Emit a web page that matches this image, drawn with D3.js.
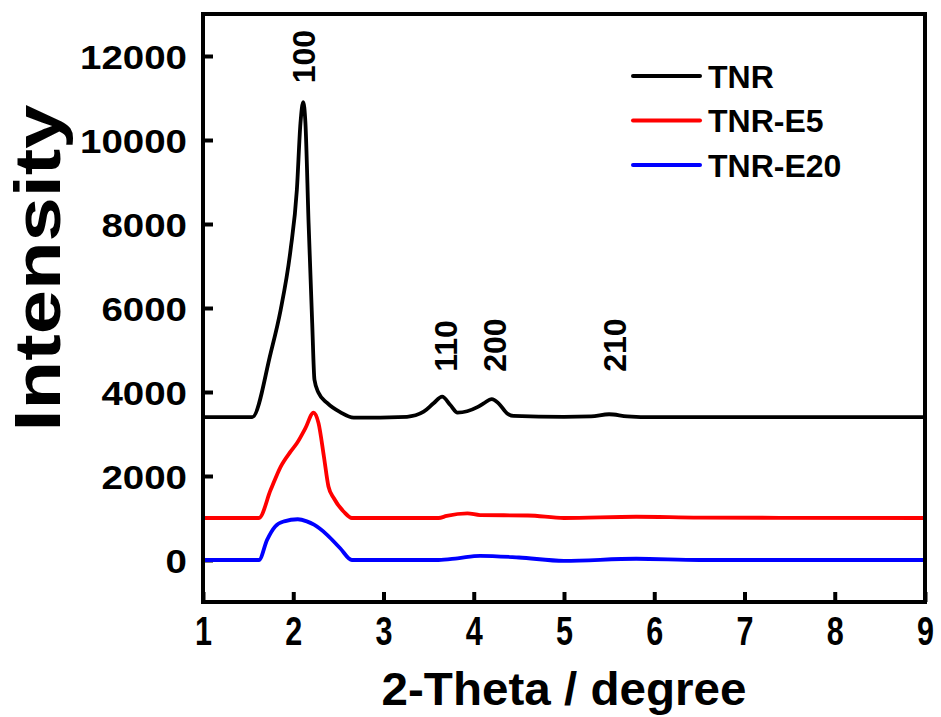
<!DOCTYPE html>
<html>
<head>
<meta charset="utf-8">
<script src="https://cdn.jsdelivr.net/npm/d3@7"></script>
<style>
  html, body { margin: 0; padding: 0; background: #fff; }
  #chart { width: 941px; height: 717px; }
  text { font-family: "Liberation Sans", Arial, sans-serif; font-weight: bold; fill: #000; }
</style>
</head>
<body>
<div id="chart"></div>
<script>
// series names + values
var seriesNames = ["TNR", "TNR-E5", "TNR-E20"];

var tnrX = [1, 1.545, 1.75, 1.86, 1.97, 2.04, 2.08, 2.11, 2.135, 2.17, 2.21, 2.235, 2.28, 2.375, 2.52, 2.67,
            3.26, 3.445, 3.555, 3.65, 3.74, 3.82, 4.04, 4.11, 4.2, 4.275, 4.37, 4.44, 5.0, 5.3, 5.5, 5.7, 6.0, 9];
var tnrY = [3400, 3400, 4930, 5950, 7380, 8810, 10400, 10900, 10400, 8020, 5640, 4290, 3980, 3740, 3520, 3390,
            3410, 3530, 3730, 3890, 3690, 3510, 3640, 3730, 3830, 3730, 3490, 3430, 3410, 3420, 3470, 3420, 3400, 3400];

var e5X = [1, 1.62, 1.75, 1.86, 1.97, 2.04, 2.135, 2.225, 2.28, 2.34, 2.39, 2.45, 2.56, 2.65,
           3.61, 3.7, 3.93, 4.07, 4.6, 5.0, 5.8, 6.5, 9];
var e5Y = [1000, 1000, 1670, 2220, 2580, 2780, 3140, 3510, 3260, 2460, 1750, 1470, 1150, 1000,
           1000, 1050, 1110, 1070, 1060, 1000, 1030, 1010, 1000];

var e20X = [1, 1.62, 1.71, 1.8, 1.9, 2.05, 2.15, 2.23, 2.375, 2.52, 2.65, 3.61, 3.82, 4.07, 4.5, 5.0, 5.8, 6.5, 9];
var e20Y = [0, 0, 480, 800, 920, 970, 920, 840, 600, 280, 0, 0, 40, 100, 60, -20, 30, 0, 0];

// peak (hkl) labels
var peakLabels = ["100", "110", "200", "210"];
var peakX = [2.11, 3.69, 4.23, 5.56];
var peakY = [11350, 4480, 4480, 4480];

var xTicks = [1, 2, 3, 4, 5, 6, 7, 8, 9];
var yTicks = [0, 2000, 4000, 6000, 8000, 10000, 12000];

var colors = ["#000000", "#ff0000", "#0000ff"];

var zip = function(xs, ys) {
  return xs.map((x, i) => ({x: x, y: ys[i]}));
};
var seriesData = [zip(tnrX, tnrY), zip(e5X, e5Y), zip(e20X, e20Y)];

var w = 941, h = 717;
var margin = ({top: 14, right: 16, bottom: 115, left: 203});

var svg = d3.select("#chart").append("svg")
  .attr("width", w)
  .attr("height", h);

var xScale = d3.scaleLinear()
  .domain([1, 9])
  .range([margin.left, w - margin.right]);
var yScale = d3.scaleLinear()
  .domain([-1000, 13000])
  .range([h - margin.bottom, margin.top]);

// axes, ticks point inward
var xAxis = g => g
  .attr("transform", `translate(0, ${h - margin.bottom})`)
  .call(d3.axisBottom(xScale).tickValues(xTicks).tickSizeInner(-10).tickSizeOuter(0).tickPadding(16)
    .tickFormat(d3.format("d")));
var yAxis = g => g
  .attr("transform", `translate(${margin.left}, 0)`)
  .call(d3.axisLeft(yScale).tickValues(yTicks).tickSizeInner(-10).tickSizeOuter(0).tickPadding(16)
    .tickFormat(d3.format("d")));

var gx = svg.append("g").attr("class", "xaxis").call(xAxis);
var gy = svg.append("g").attr("class", "yaxis").call(yAxis);

gx.select(".domain").remove();
gy.select(".domain").remove();
gx.selectAll(".tick line").attr("stroke", "#000").attr("stroke-width", 4);
gy.selectAll(".tick line").attr("stroke", "#000").attr("stroke-width", 4);

// x labels are tall and narrow in the original
gx.selectAll(".tick text")
  .attr("font-size", 40)
  .attr("dy", "0.71em")
  .attr("y", 15)
  .attr("textLength", d => String(d).length * 17)
  .attr("lengthAdjust", "spacingAndGlyphs");

// y labels are drawn wide
gy.selectAll(".tick text")
  .attr("font-size", 34)
  .attr("x", -16)
  .attr("dy", "0.36em")
  .attr("textLength", d => String(d).length * 21.4)
  .attr("lengthAdjust", "spacingAndGlyphs");

// lines
var lineGenerator = d3.line()
  .x(d => xScale(d.x))
  .y(d => yScale(d.y))
  .curve(d3.curveMonotoneX);

var lineG = svg.append("g")
  .attr("class", "linepaths")
  .attr("fill", "none")
  .attr("stroke-width", 3.8)
  .attr("stroke-linejoin", "round")
  .attr("stroke-linecap", "round");

lineG.selectAll("path")
  .data(seriesData)
  .enter()
    .append("path")
      .attr("stroke", (d, i) => colors[i])
      .attr("d", d => lineGenerator(d));

// frame
svg.append("rect")
  .attr("x", margin.left)
  .attr("y", margin.top)
  .attr("width", w - margin.left - margin.right)
  .attr("height", h - margin.top - margin.bottom)
  .attr("fill", "none")
  .attr("stroke", "#000")
  .attr("stroke-width", 4);

// peak labels
svg.append("g")
  .attr("class", "peaks")
  .selectAll("text")
  .data(peakLabels)
  .enter()
    .append("text")
      .attr("font-size", 32)
      .attr("dy", "0.36em")
      .attr("transform", (d, i) => "translate(" + xScale(peakX[i]) + "," + yScale(peakY[i]) + ") rotate(-90)")
      .text(d => d);

// legend
var legend = svg.append("g")
  .attr("class", "legend")
  .attr("transform", "translate(633, 76)");

var legendRow = legend.selectAll("g")
  .data(seriesNames)
  .enter()
    .append("g")
      .attr("transform", (d, i) => "translate(0," + i * 44.5 + ")");
legendRow.append("line")
  .attr("x1", 0)
  .attr("x2", 67)
  .attr("stroke", (d, i) => colors[i])
  .attr("stroke-width", 4)
  .attr("stroke-linecap", "round");
legendRow.append("text")
  .attr("x", 75)
  .attr("dy", "0.36em")
  .attr("font-size", 32)
  .text(d => d);

// axis titles
svg.append("text")
  .attr("x", (margin.left + w - margin.right) / 2)
  .attr("y", 705)
  .attr("text-anchor", "middle")
  .attr("font-size", 46)
  .attr("textLength", 365)
  .attr("lengthAdjust", "spacingAndGlyphs")
  .text("2-Theta / degree");

svg.append("text")
  .attr("transform", "translate(60," + 268 + ") rotate(-90)")
  .attr("text-anchor", "middle")
  .attr("font-size", 64)
  .attr("textLength", 327)
  .attr("lengthAdjust", "spacingAndGlyphs")
  .text("Intensity");
</script>
</body>
</html>
